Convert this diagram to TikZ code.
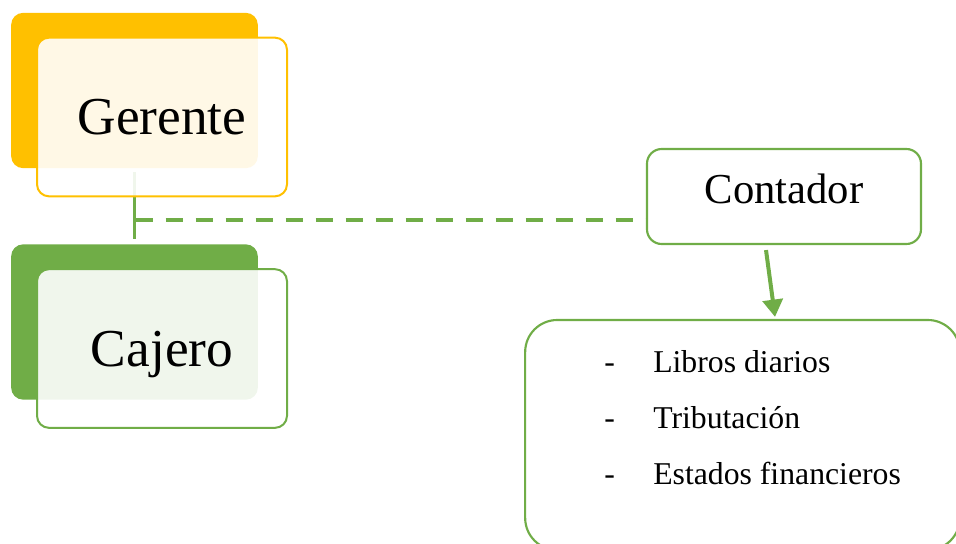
\documentclass[tikz,border=0pt]{standalone}
\usepackage{fontspec}
\setmainfont{Liberation Serif}
\usepackage{xcolor}
\usepackage{tikz}
\usetikzlibrary{positioning, arrows.meta}

\definecolor{amarillo}{HTML}{FFC000}
\definecolor{verde}{HTML}{70AD47}

\begin{document}
\begin{tikzpicture}[
    x=0.75pt, y=-0.75pt,
    back/.style={rounded corners=9pt, minimum width=185pt, minimum height=116.5pt, inner sep=0pt},
    front/.style={draw, line width=1.5pt, fill=white, fill opacity=0.9, text opacity=1, rounded corners=9pt,
        minimum width=187.5pt, minimum height=119pt, inner sep=0pt, text depth=0pt, font=\fontsize{40}{48}\selectfont},
    box/.style={draw=verde, line width=1.6pt, fill=white, inner sep=0pt},
    conector/.style={verde, line width=2pt},
    dashline/.style={verde, line width=3pt, dash pattern=on 12.75pt off 9.75pt},
    arrow/.style={-{Triangle[width=15pt,length=13pt]}, verde, line width=3pt}
]
\clip (0,0) rectangle (956,543);

% Gerente
\node[back, fill=amarillo] (gerenteback) at (134.5,90.5) {};
% Cajero
\node[back, fill=verde] (cajeroback) at (134.5,322) {};

% Line between levels
\draw[conector, shorten <=3pt, shorten >=3.5pt] (gerenteback) -- (cajeroback);

\node[front, draw=amarillo] (gerente) at (162,117) {Gerente};
\node[front, draw=verde] (cajero) at (162,348.5) {Cajero};

% Contador and its tasks
\node[box, rounded corners=11pt, minimum width=205.5pt, minimum height=71.25pt,
    font=\fontsize{32}{38}\selectfont, text height=22pt, text depth=10.8pt] (contador) at (784,196.5) {Contador};
\node[box, rounded corners=24pt, minimum width=326pt, minimum height=172.5pt] (funciones) at (742.5,435) {};
\node[anchor=north west, inner sep=0pt, align=left, font=\fontsize{23.8}{42}\selectfont] (lista) at (604,350)
    {\makebox[36.75pt][l]{-}Libros diarios\\
     \makebox[36.75pt][l]{-}Tributación\\
     \makebox[36.75pt][l]{-}Estados financieros};

% Connectors
\coordinate (enlace) at (135.5,220);
\draw[dashline] (enlace) -- (enlace -| contador.west);
\draw[arrow] ([xshift=-13.5pt,yshift=-3.75pt]contador.south) -- ([xshift=24.4pt,yshift=1.5pt]funciones.north);

\end{tikzpicture}
\end{document}
